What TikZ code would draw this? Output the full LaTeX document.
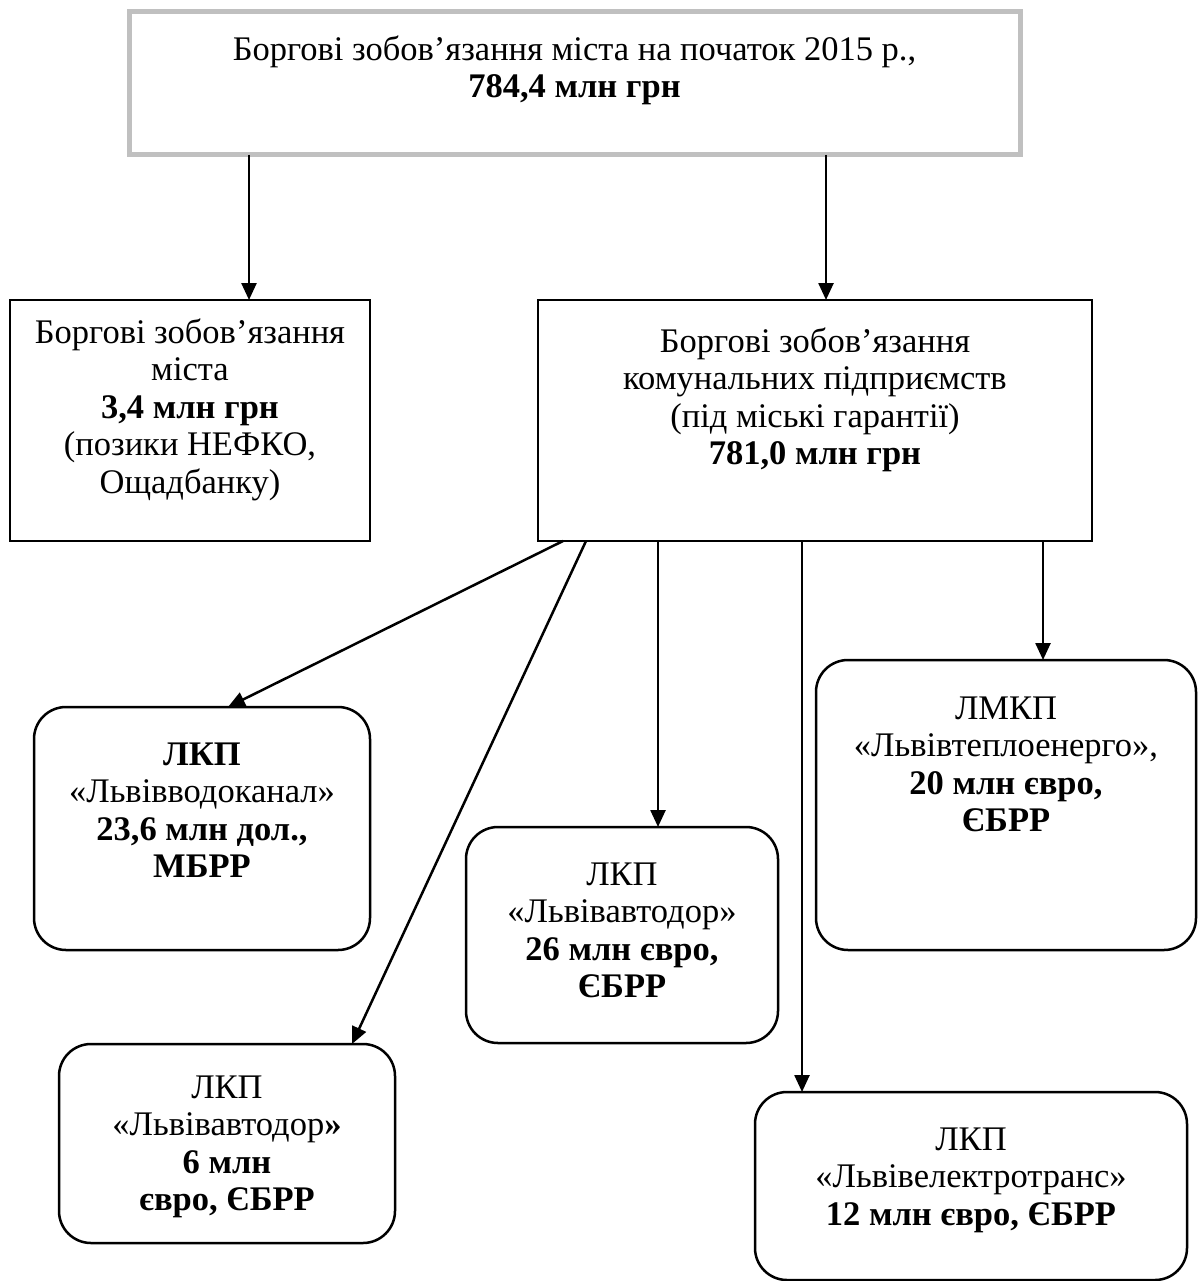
\documentclass[tikz,border=0pt]{standalone}
\usepackage{fontspec}
\setmainfont{Liberation Serif}
\usetikzlibrary{arrows.meta}
\definecolor{boxgray}{RGB}{192,192,192}
\newcommand{\bxt}[4]{\parbox[c][#2pt][t]{#1pt}{\centering\vspace*{#3pt}\strut #4}}
\tikzset{
  plainbox/.style={draw=black, line width=2.5pt, inner sep=0pt, outer sep=0pt},
  roundbox/.style={plainbox, rounded corners=32pt},
  graybox/.style={draw=boxgray, line width=5pt, inner sep=0pt, outer sep=0pt},
  arr/.style={line width=2.5pt, -{Triangle[width=15pt,length=17pt]}}
}
\begin{document}
\begin{tikzpicture}[x=1pt,y=-1pt]
\useasboundingbox[fill=white] (0,0) rectangle (1198,1281);
\fontsize{34.5}{37.5}\selectfont
% top box: x 129-1020, y 12-155
\node[graybox] (top) at (574.5,83.5) {\bxt{891}{143}{22}{Боргові зобов’язання міста на початок 2015 р.,\\\textbf{784,4 млн грн}}};
% left box: x 10-370, y 300-541
\node[plainbox] (left) at (190,420.5) {\bxt{360}{241}{17}{Боргові зобов’язання\\міста\\\textbf{3,4 млн грн}\\(позики НЕФКО,\\Ощадбанку)}};
% middle box: x 538-1092, y 300-541
\node[plainbox] (mid) at (815,420.5) {\bxt{554}{241}{26}{Боргові зобов’язання\\комунальних підприємств\\(під міські гарантії)\\\textbf{781,0 млн грн}}};
% vodokanal: x 34-370, y 707-950
\node[roundbox] (vodo) at (202,828.5) {\bxt{336}{243}{32}{\textbf{ЛКП}\\«Львівводоканал»\\\textbf{23,6 млн дол.,}\\\textbf{МБРР}}};
% avtodor 26: x 466-778, y 827-1043
\node[roundbox] (avtoa) at (622,935) {\bxt{312}{216}{32}{ЛКП\\«Львівавтодор»\\\textbf{26 млн євро,}\\\textbf{ЄБРР}}};
% lmkp: x 816-1196, y 660-950
\node[roundbox] (lmkp) at (1006,805) {\bxt{380}{290}{33}{ЛМКП\\«Львівтеплоенерго»,\\\textbf{20 млн євро,}\\\textbf{ЄБРР}}};
% avtodor 6: x 59-395, y 1044-1243
\node[roundbox] (avtob) at (227,1143.5) {\bxt{336}{199}{28}{ЛКП\\«Львівавтодор\textbf{»}\\\textbf{6 млн}\\\textbf{євро, ЄБРР}}};
% elektrotrans: x 755-1187, y 1092-1280
\node[roundbox] (elek) at (971,1186) {\bxt{432}{188}{32}{ЛКП\\«Львівелектротранс»\\\textbf{12 млн євро, ЄБРР}}};
% connectors
\draw[arr] ([xshift=-325.5pt]top.south) -- ([xshift=59pt]left.north);
\draw[arr] ([xshift=251.5pt]top.south) -- ([xshift=11pt]mid.north);
\draw[arr] ([xshift=-252pt]mid.south) -- ([xshift=26pt]vodo.north);
\draw[arr] ([xshift=-229pt]mid.south) -- ([xshift=125pt]avtob.north);
\draw[arr] ([xshift=-157pt]mid.south) -- ([xshift=36pt]avtoa.north);
\draw[arr] ([xshift=-13pt]mid.south) -- ([xshift=-169pt]elek.north);
\draw[arr] ([xshift=228pt]mid.south) -- ([xshift=37pt]lmkp.north);
\end{tikzpicture}
\end{document}
